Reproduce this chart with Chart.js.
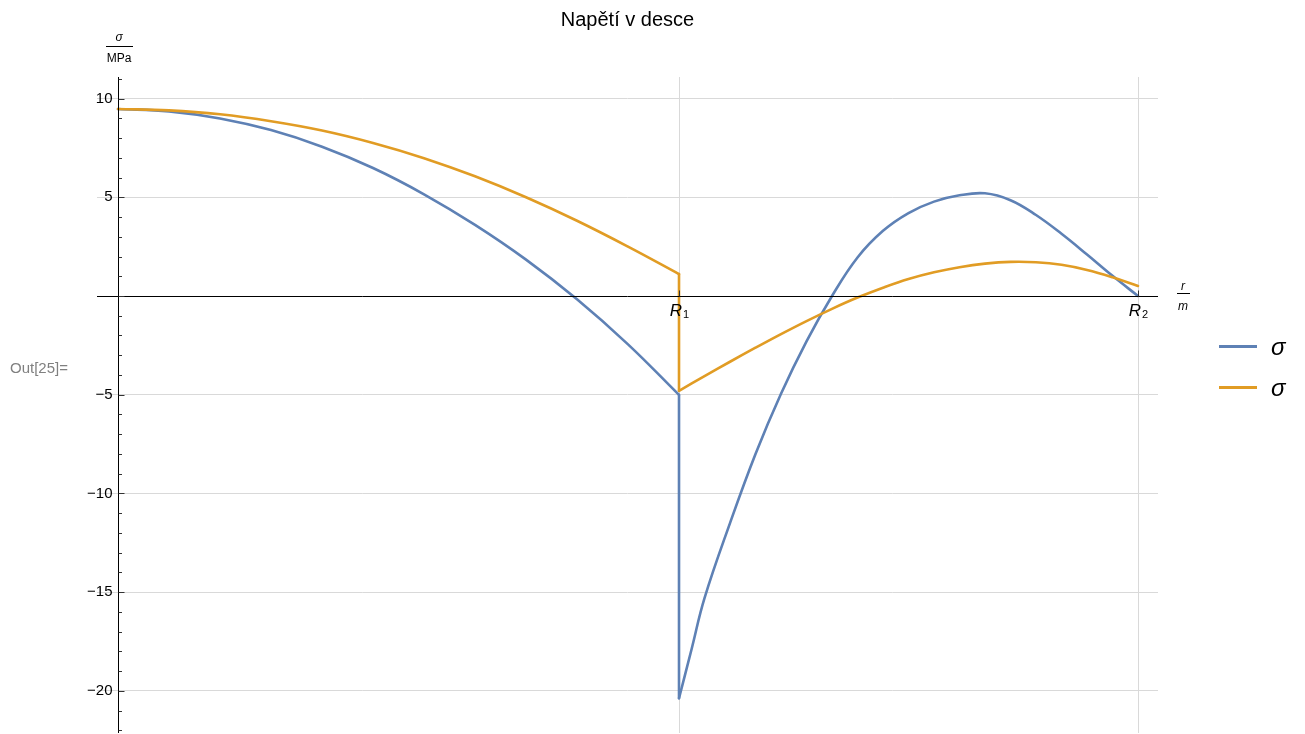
<!DOCTYPE html>
<html>
<head>
<meta charset="utf-8">
<title>Napětí v desce</title>
<script src="https://cdn.jsdelivr.net/npm/chart.js@4.4.1/dist/chart.umd.min.js"></script>
<style>
  html, body { margin: 0; padding: 0; background: #fff; }
  canvas { display: block; }
</style>
</head>
<body>
<canvas id="stressChart" width="1305" height="734"></canvas>
<script>
// poloměry desky (R2 = 1, R1 = 0.55 R2)
const R1 = 0.55;
const R2 = 1.0;

// vnitřní část 0..R1
const rInner = [0, 0.05, 0.1, 0.15, 0.2, 0.25, 0.3, 0.35, 0.4, 0.45, 0.5, 0.55];
const sigmaBlueInner = [9.47, 9.35, 8.99, 8.40, 7.56, 6.48, 5.15, 3.60, 1.84, -0.17, -2.45, -5.01];
const sigmaOrangeInner = [9.47, 9.40, 9.20, 8.85, 8.38, 7.75, 6.98, 6.06, 5.00, 3.81, 2.50, 1.11];

// vnější část R1..R2
const rOuterBlue = [0.55, 0.5625, 0.575, 0.6, 0.625, 0.65, 0.675, 0.7, 0.725, 0.75, 0.775, 0.8, 0.825, 0.85, 0.875, 0.9, 0.925, 0.95, 0.975, 1.0];
const sigmaBlueOuter = [-20.37, -17.85, -15.3, -11.5, -8.0, -4.95, -2.3, 0.0, 1.95, 3.3, 4.2, 4.78, 5.1, 5.2, 4.85, 4.1, 3.15, 2.1, 1.02, 0.0];
const rOuterOrange = [0.55, 0.575, 0.6, 0.625, 0.65, 0.675, 0.7, 0.725, 0.75, 0.775, 0.8, 0.825, 0.85, 0.875, 0.9, 0.925, 0.95, 0.975, 1.0];
const sigmaOrangeOuter = [-4.8, -4.06, -3.33, -2.62, -1.93, -1.27, -0.65, -0.08, 0.42, 0.86, 1.2, 1.46, 1.64, 1.73, 1.71, 1.58, 1.32, 0.95, 0.51];

// osy
const xTicks = [R1, R2];
const xTickLabels = [['R', '1'], ['R', '2']];
const yTicks = [-20, -15, -10, -5, 5, 10];
const xRange = [-0.0206, 1.0196];
const yRange = [-22.13, 11.09];

const FONT = '"Liberation Sans", Arial, sans-serif';
const BLUE = '#5E81B5';
const ORANGE = '#E19C24';

function toPoints(rs, vals) {
    return rs.map((r, i) => ({ x: r, y: vals[i] }));
}

// skok napětí v R1 - svislá spojnice konce vnitřní a začátku vnější části
function jump(inner, outer) {
    return [{ x: R1, y: inner[inner.length - 1] }, { x: R1, y: outer[0] }];
}

function curve(label, color, data, order, inLegend) {
    return {
        label: label,
        data: data,
        borderColor: color,
        borderWidth: 2.6,
        borderCapStyle: 'round',
        borderJoinStyle: 'round',
        pointRadius: 0,
        tension: data.length > 2 ? 0.4 : 0,
        fill: false,
        order: order,
        inLegend: inLegend
    };
}

function minusLabel(v) {
    return v < 0 ? '\u2212' + Math.abs(v) : String(v);
}

// osy, popisky, legenda - kreslí se přes plátno po datech
const decorPlugin = {
    id: 'decor',
    afterDatasetsDraw(chart) {
        const { ctx, chartArea: a, scales: { x, y } } = chart;
        const x0 = Math.round(x.getPixelForValue(0)) + 0.5;
        const y0 = Math.round(y.getPixelForValue(0)) + 0.5;

        ctx.save();
        ctx.strokeStyle = '#000';
        ctx.lineWidth = 1;

        // osa x a osa y
        ctx.beginPath();
        ctx.moveTo(a.left, y0);
        ctx.lineTo(a.right, y0);
        ctx.moveTo(x0, a.top);
        ctx.lineTo(x0, a.bottom);
        ctx.stroke();

        // značky na ose y (hlavní po 5, vedlejší po 1)
        ctx.strokeStyle = '#333';
        ctx.beginPath();
        for (let v = Math.ceil(yRange[0]); v <= Math.floor(yRange[1]); v++) {
            const py = Math.round(y.getPixelForValue(v)) + 0.5;
            const len = v % 5 === 0 ? 6 : 3.5;
            ctx.moveTo(x0, py);
            ctx.lineTo(x0 + len, py);
        }
        // značky na ose x
        xTicks.forEach(v => {
            const px = Math.round(x.getPixelForValue(v)) + 0.5;
            ctx.moveTo(px, y0);
            ctx.lineTo(px, y0 - 6);
        });
        ctx.stroke();

        // popisky osy y
        ctx.fillStyle = '#000';
        ctx.font = '15px ' + FONT;
        ctx.textAlign = 'right';
        ctx.textBaseline = 'middle';
        yTicks.forEach(v => {
            ctx.fillText(minusLabel(v), x0 - 6, y.getPixelForValue(v));
        });

        // popisky R1, R2
        ctx.textAlign = 'left';
        ctx.textBaseline = 'alphabetic';
        xTicks.forEach((v, i) => {
            const px = x.getPixelForValue(v);
            const [main, sub] = xTickLabels[i];
            ctx.font = 'italic 17px ' + FONT;
            const w1 = ctx.measureText(main).width;
            ctx.font = '11px ' + FONT;
            const w2 = ctx.measureText(sub).width;
            const left = px - (w1 + w2) / 2;
            ctx.font = 'italic 17px ' + FONT;
            ctx.fillText(main, left, 316);
            ctx.font = '11px ' + FONT;
            ctx.fillText(sub, left + w1 + 1, 318);
        });

        // jednotky os (zlomky)
        ctx.textAlign = 'center';
        ctx.font = 'italic 12px ' + FONT;
        ctx.fillText('σ', 119, 41);
        ctx.font = '12px ' + FONT;
        ctx.fillText('MPa', 119, 62);
        ctx.font = 'italic 12px ' + FONT;
        ctx.fillText('r', 1183, 290);
        ctx.fillText('m', 1183, 310);
        ctx.strokeStyle = '#000';
        ctx.beginPath();
        ctx.moveTo(106, 46.5);
        ctx.lineTo(133, 46.5);
        ctx.moveTo(1177, 293.5);
        ctx.lineTo(1190, 293.5);
        ctx.stroke();

        // Out[25]=
        ctx.textAlign = 'left';
        ctx.fillStyle = '#808080';
        ctx.font = '15px ' + FONT;
        ctx.fillText('Out[25]=', 10, 373);

        // legenda
        const legendY = [346.5, 387.5];
        chart.data.datasets.filter(ds => ds.inLegend).forEach((ds, i) => {
            ctx.strokeStyle = ds.borderColor;
            ctx.lineWidth = 3;
            ctx.beginPath();
            ctx.moveTo(1219, legendY[i]);
            ctx.lineTo(1257, legendY[i]);
            ctx.stroke();
            ctx.fillStyle = '#000';
            ctx.font = 'italic 24px ' + FONT;
            ctx.fillText(ds.label, 1271, legendY[i] + 8);
        });

        ctx.restore();
    }
};

const chart = new Chart(document.getElementById('stressChart'), {
    type: 'line',
    data: {
        datasets: [
            curve('σ', BLUE, toPoints(rInner, sigmaBlueInner), 2, true),
            curve('σ', ORANGE, toPoints(rInner, sigmaOrangeInner), 1, true),
            curve('σ', BLUE, jump(sigmaBlueInner, sigmaBlueOuter), 2, false),
            curve('σ', BLUE, toPoints(rOuterBlue, sigmaBlueOuter), 2, false),
            curve('σ', ORANGE, jump(sigmaOrangeInner, sigmaOrangeOuter), 1, false),
            curve('σ', ORANGE, toPoints(rOuterOrange, sigmaOrangeOuter), 1, false)
        ]
    },
    options: {
        responsive: false,
        devicePixelRatio: 1,
        animation: false,
        layout: {
            padding: { left: 97, right: 147, top: 0, bottom: 1 }
        },
        plugins: {
            legend: { display: false },
            tooltip: { enabled: false },
            title: {
                display: true,
                text: 'Napětí v desce',
                color: '#000',
                font: { family: FONT, size: 20, weight: 'normal' },
                padding: { top: 8.7, bottom: 44.3 }
            }
        },
        scales: {
            x: {
                type: 'linear',
                min: xRange[0],
                max: xRange[1],
                ticks: { display: false },
                border: { display: false },
                grid: { color: '#d9d9d9', lineWidth: 1, drawTicks: false },
                afterBuildTicks: s => { s.ticks = xTicks.map(v => ({ value: v })); },
                afterFit: s => { s.height = 0; }
            },
            y: {
                type: 'linear',
                min: yRange[0],
                max: yRange[1],
                ticks: { display: false, stepSize: 5, includeBounds: false },
                border: { display: false },
                grid: {
                    color: c => (c.tick && c.tick.value === 0) ? 'rgba(0,0,0,0)' : '#d9d9d9',
                    lineWidth: 1,
                    drawTicks: false
                },
                afterFit: s => { s.width = 0; }
            }
        }
    },
    plugins: [decorPlugin]
});
</script>
</body>
</html>
